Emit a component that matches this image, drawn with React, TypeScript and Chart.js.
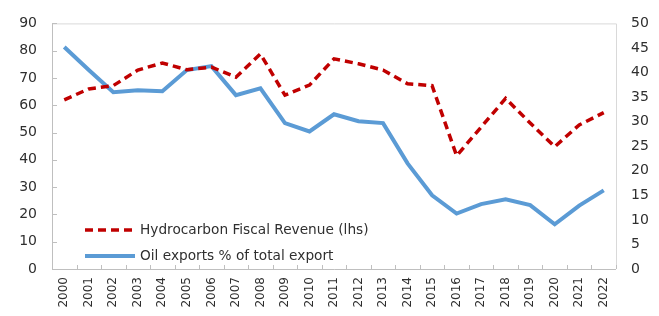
import React, { useEffect, useRef } from 'react';
import { Chart, registerables } from 'chart.js';

Chart.register(...registerables);

const years = ['2000','2001','2002','2003','2004','2005','2006','2007','2008','2009','2010','2011','2012','2013','2014','2015','2016','2017','2018','2019','2020','2021','2022'];
const hydrocarbonRevenue = [62, 66, 67.2, 72.9, 75.5, 73, 74, 70.3, 78.8, 63.7, 67.4, 77, 75.2, 72.9, 67.9, 67.2, 41.5, 52, 62.5, 53.5, 44.8, 52.8, 57.3];
const oilExportShare = [45.2, 40.5, 36, 36.4, 36.2, 40.5, 41.3, 35.4, 36.8, 29.7, 28, 31.5, 30.1, 29.7, 21.5, 15, 11.3, 13.2, 14.2, 13, 9.1, 12.9, 16];
const legendLabels = ['Hydrocarbon Fiscal Revenue (lhs)', 'Oil exports % of total export'];
const leftAxis = { min: 0, max: 90, step: 10 };
const rightAxis = { min: 0, max: 50, step: 5 };

const RED = '#C00000';
const BLUE = '#5B9BD5';
const FONT = '"DejaVu Sans", sans-serif';
const TEXT = '#2F2F2F';

const framePlugin = {
  id: 'frame',
  afterDatasetsDraw(chart: any) {
    const { ctx, chartArea: a, scales } = chart;
    ctx.save();
    ctx.strokeStyle = '#D9D9D9';
    ctx.lineWidth = 1;
    ctx.beginPath();
    ctx.moveTo(a.left, a.top + 0.5);
    ctx.lineTo(a.right + 0.5, a.top + 0.5);
    ctx.lineTo(a.right + 0.5, a.bottom);
    ctx.stroke();
    ctx.strokeStyle = '#BFBFBF';
    ctx.beginPath();
    ctx.moveTo(a.left + 0.5, a.top);
    ctx.lineTo(a.left + 0.5, a.bottom + 0.5);
    ctx.lineTo(a.right, a.bottom + 0.5);
    ctx.stroke();
    const y = scales.y;
    ctx.beginPath();
    y.ticks.forEach((t: any) => {
      const py = Math.round(y.getPixelForValue(t.value)) + 0.5;
      ctx.moveTo(a.left, py);
      ctx.lineTo(a.left + 5, py);
    });
    const x = scales.x;
    for (let i = 0; i <= years.length; i++) {
      const px = Math.round(x.getPixelForValue(i - 0.5)) + 0.5;
      ctx.moveTo(px, a.bottom);
      ctx.lineTo(px, a.bottom - 4);
    }
    ctx.stroke();
    ctx.restore();
  },
  afterDraw(chart: any) {
    const { ctx, chartArea: a } = chart;
    ctx.save();
    const x0 = a.left + 33;
    const len = 50;
    const rows = [a.bottom - 39, a.bottom - 13];
    chart.data.datasets.forEach((ds: any, i: number) => {
      const yy = rows[i];
      ctx.strokeStyle = ds.borderColor;
      ctx.lineWidth = ds.borderWidth;
      ctx.setLineDash(ds.borderDash || []);
      ctx.beginPath();
      ctx.moveTo(x0, yy);
      ctx.lineTo(x0 + len, yy);
      ctx.stroke();
      ctx.setLineDash([]);
      ctx.fillStyle = TEXT;
      ctx.font = `13.7px ${FONT}`;
      ctx.textBaseline = 'middle';
      ctx.fillText(legendLabels[i], x0 + len + 5, yy);
    });
    ctx.restore();
  },
};

export default function App() {
  const ref = useRef<HTMLCanvasElement>(null);
  useEffect(() => {
    document.body.style.margin = '0';
    const chart = new Chart(ref.current!, {
      type: 'line',
      data: {
        labels: years,
        datasets: [
          {
            label: legendLabels[0],
            data: hydrocarbonRevenue,
            borderColor: RED,
            backgroundColor: RED,
            borderWidth: 3.5,
            borderDash: [8, 5],
            pointRadius: 0,
            yAxisID: 'y',
            tension: 0,
          },
          {
            label: legendLabels[1],
            data: oilExportShare,
            borderColor: BLUE,
            backgroundColor: BLUE,
            borderWidth: 4,
            pointRadius: 0,
            yAxisID: 'y1',
            tension: 0,
          },
        ],
      },
      options: {
        animation: false,
        responsive: false,
        maintainAspectRatio: false,
        layout: { padding: { top: 15, left: 0, right: 0, bottom: 0 } },
        plugins: { legend: { display: false }, tooltip: { enabled: false } },
        scales: {
          x: {
            offset: true,
            grid: { display: false, drawTicks: false },
            border: { display: false },
            ticks: {
              minRotation: 90,
              maxRotation: 90,
              autoSkip: false,
              padding: 8,
              color: TEXT,
              font: { family: FONT, size: 12 },
            },
            afterFit: (s: any) => { s.height = 47; },
          },
          y: {
            position: 'left',
            min: leftAxis.min,
            max: leftAxis.max,
            grid: { display: false, drawTicks: false },
            border: { display: false },
            ticks: {
              stepSize: leftAxis.step,
              padding: 15,
              color: TEXT,
              font: { family: FONT, size: 14 },
            },
            afterFit: (s: any) => { s.width = 52; },
          },
          y1: {
            position: 'right',
            min: rightAxis.min,
            max: rightAxis.max,
            grid: { display: false, drawTicks: false },
            border: { display: false },
            ticks: {
              stepSize: rightAxis.step,
              padding: 15,
              color: TEXT,
              font: { family: FONT, size: 14 },
            },
            afterFit: (s: any) => { s.width = 43; },
          },
        },
      },
      plugins: [framePlugin],
    });
    return () => chart.destroy();
  }, []);
  return (
    <div style={{ width: 659, height: 316 }}>
      <canvas ref={ref} width={659} height={316} style={{ display: 'block', width: 659, height: 316 }} />
    </div>
  );
}
